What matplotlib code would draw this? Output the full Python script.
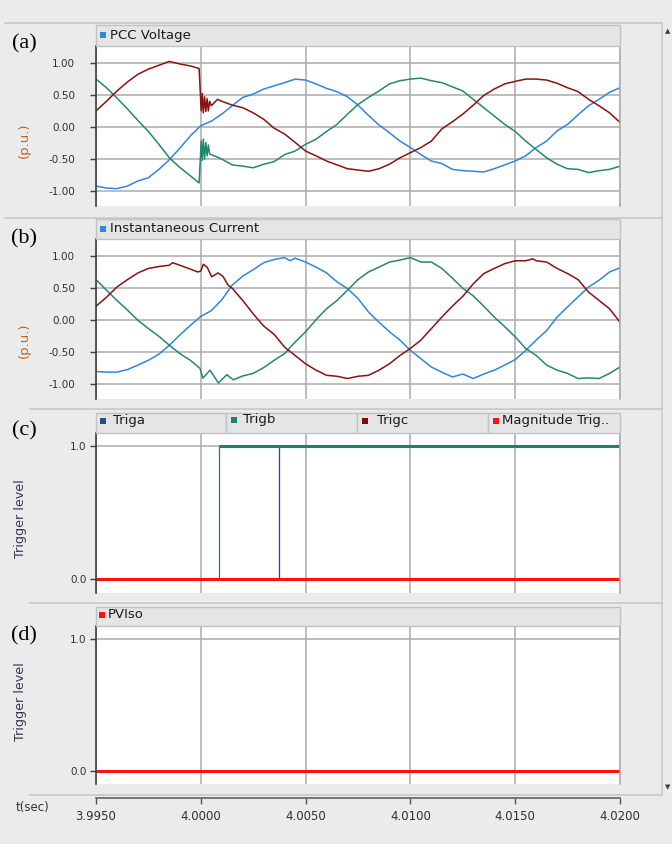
import numpy as np
import matplotlib.pyplot as plt
from matplotlib.lines import Line2D
from matplotlib.patches import Rectangle

# sample times (s)
t_grid = [3.9950, 3.9955, 3.9960, 3.9965, 3.9970, 3.9975, 3.9980, 3.9985, 3.9990, 3.9995,
          4.0000, 4.0005, 4.0010, 4.0015, 4.0020, 4.0025, 4.0030, 4.0035, 4.0040, 4.0045,
          4.0050, 4.0055, 4.0060, 4.0065, 4.0070, 4.0075, 4.0080, 4.0085, 4.0090, 4.0095,
          4.0100, 4.0105, 4.0110, 4.0115, 4.0120, 4.0125, 4.0130, 4.0135, 4.0140, 4.0145,
          4.0150, 4.0155, 4.0160, 4.0165, 4.0170, 4.0175, 4.0180, 4.0185, 4.0190, 4.0195,
          4.0200]
nan = np.nan

# (a) PCC voltage, p.u.
v_blue = [-0.92, -0.95, -0.96, -0.92, -0.84, -0.79, -0.66, -0.51, -0.33, -0.14,
          0.02, 0.09, 0.20, 0.33, 0.46, 0.51, 0.59, 0.64, 0.69, 0.745,
          0.73, 0.67, 0.60, 0.55, 0.47, 0.34, 0.18, 0.03, -0.09, -0.22,
          -0.32, -0.43, -0.53, -0.57, -0.66, -0.68, -0.69, -0.70, -0.65, -0.59,
          -0.53, -0.45, -0.32, -0.22, -0.06, 0.04, 0.19, 0.33, 0.43, 0.54,
          0.61]
v_red = [0.25, 0.40, 0.56, 0.70, 0.82, 0.90, 0.96, 1.02, 0.98, 0.95,
         nan, 0.33, 0.40, 0.34, 0.30, 0.22, 0.12, -0.02, -0.11, -0.24,
         -0.375, -0.45, -0.53, -0.59, -0.65, -0.67, -0.69, -0.65, -0.58, -0.48,
         -0.40, -0.32, -0.22, -0.03, 0.08, 0.20, 0.34, 0.49, 0.59, 0.67,
         0.71, 0.745, 0.745, 0.73, 0.68, 0.61, 0.55, 0.43, 0.33, 0.22,
         0.07]
v_green = [0.745, 0.61, 0.45, 0.28, 0.10, -0.07, -0.27, -0.48, -0.63, -0.76,
           nan, -0.43, -0.50, -0.59, -0.61, -0.635, -0.58, -0.54, -0.43, -0.375,
           -0.27, -0.19, -0.07, 0.04, 0.20, 0.35, 0.46, 0.56, 0.67, 0.72,
           0.745, 0.76, 0.72, 0.69, 0.625, 0.56, 0.43, 0.30, 0.17, 0.04,
           -0.07, -0.22, -0.35, -0.48, -0.58, -0.65, -0.66, -0.71, -0.68, -0.66,
           -0.61]
# switching transient around t = 4.0000 s
v_tr_t = [3.99992, 4.00002, 4.00007, 4.00012, 4.00018, 4.00024, 4.00030, 4.00036, 4.00042, 4.00080]
v_red_tr = [0.91, 0.25, 0.52, 0.22, 0.47, 0.24, 0.44, 0.25, 0.40, 0.43]
v_green_tr = [-0.87, -0.22, -0.52, -0.19, -0.50, -0.24, -0.45, -0.28, -0.42, -0.47]

# (b) instantaneous current, p.u.
i_blue = [-0.80, -0.81, -0.81, -0.77, -0.70, -0.625, -0.53, -0.39, -0.23, -0.08,
          0.06, 0.15, 0.32, 0.55, 0.69, 0.79, 0.90, 0.95, 0.98, 0.97,
          0.91, 0.83, 0.74, 0.60, 0.495, 0.34, 0.13, -0.03, -0.18, -0.31,
          -0.47, -0.60, -0.73, -0.81, -0.885, -0.84, -0.91, -0.84, -0.78, -0.70,
          -0.615, -0.47, -0.31, -0.16, 0.05, 0.21, 0.365, 0.52, 0.625, 0.755,
          0.82]
i_red = [0.22, 0.36, 0.52, 0.635, 0.74, 0.81, 0.84, 0.86, 0.86, 0.80,
         nan, nan, nan, nan, 0.31, 0.10, -0.09, -0.22, -0.42, -0.55,
         -0.68, -0.78, -0.86, -0.875, -0.91, -0.875, -0.86, -0.78, -0.68, -0.55,
         -0.44, -0.31, -0.13, 0.05, 0.22, 0.375, 0.57, 0.73, 0.81, 0.885,
         0.93, 0.93, 0.93, 0.91, 0.81, 0.73, 0.635, 0.44, 0.31, 0.18,
         -0.03]
i_green = [0.635, 0.47, 0.31, 0.16, 0.0, -0.13, -0.25, -0.39, -0.52, -0.625,
           nan, nan, nan, nan, -0.87, -0.83, -0.74, -0.625, -0.52, -0.34,
           -0.18, 0.01, 0.18, 0.31, 0.47, 0.635, 0.755, 0.83, 0.91, 0.94,
           0.98, 0.91, 0.91, 0.81, 0.66, 0.50, 0.38, 0.22, 0.05, -0.10,
           -0.26, -0.44, -0.55, -0.70, -0.78, -0.83, -0.91, -0.90, -0.91, -0.83,
           -0.73]
i_blue_tr_t = [4.00425]
i_blue_tr = [0.93]
i_red_tr_t = [3.99865, 3.99985, 4.0000, 4.00012, 4.0003, 4.00052, 4.00082, 4.00105, 4.0013, 4.0015, 4.01585]
i_red_tr = [0.90, 0.755, 0.77, 0.875, 0.83, 0.68, 0.74, 0.69, 0.55, 0.50, 0.96]
i_green_tr_t = [3.99996, 4.0001, 4.00044, 4.00084, 4.00124, 4.00155]
i_green_tr = [-0.75, -0.905, -0.78, -0.98, -0.85, -0.93]

# (c) trigger signals
triga_t = [3.9950, 4.00371, 4.00371, 4.00374, 4.00374, 4.0200]
triga = [0, 0, 0.93, 0.93, 1, 1]
trigb_t = [3.9950, 4.00089, 4.00089, 4.0200]
trigb = [0, 0, 1, 1]
trigc_t = [3.9950, 4.0200]
trigc = [0, 0]
mag_t = [3.9950, 4.0200]
mag = [0, 0]

# (d) PV isolation signal
pviso_t = [3.9950, 4.0200]
pviso = [0, 0]

x_ticks = [3.995, 4.000, 4.005, 4.010, 4.015, 4.020]
wave_ticks = [-1.0, -0.5, 0.0, 0.5, 1.0]
trig_ticks = [0.0, 1.0]

BLUE, GREEN, DRED = '#2f86dc', '#24886c', '#8c1111'
W, H = 672, 844
BG = '#ebebeb'


def merge(t, v, et=(), ev=()):
    t = np.concatenate([np.asarray(t, float), np.asarray(et, float)])
    v = np.concatenate([np.asarray(v, float), np.asarray(ev, float)])
    ok = ~np.isnan(v)
    t, v = t[ok], v[ok]
    o = np.argsort(t, kind='stable')
    return t[o], v[o]


def rect(l, t, r, b):
    return [l / W, 1 - b / H, (r - l) / W, (b - t) / H]


def fx(x):
    return x / W


def fy(y):
    return 1 - y / H


fig = plt.figure(figsize=(6.72, 8.44), dpi=100, facecolor=BG)


def fline(xs, ys, color='#c4c4c4', lw=1.1):
    fig.add_artist(Line2D([fx(x) for x in xs], [fy(y) for y in ys],
                          transform=fig.transFigure, color=color, lw=lw))


def cell(l, t, r, b):
    fig.add_artist(Rectangle((fx(l), fy(b)), (r - l) / W, (b - t) / H,
                             transform=fig.transFigure, facecolor='#e5e5e5',
                             edgecolor='#c2c2c2', lw=1.0))


def legend_item(x, y, color, text, tx=None):
    fig.add_artist(Rectangle((fx(x), fy(y + 3)), 6 / W, 6 / H, transform=fig.transFigure,
                             facecolor=color, edgecolor='none'))
    fig.text(fx(tx if tx else x + 10), fy(y), text, fontsize=9.5, color='#1a1a1a',
             va='center', ha='left', family='DejaVu Sans')


def make_axes(top, bottom, ylim, yticks, fmt, pad):
    ax = fig.add_axes(rect(96, top, 620, bottom))
    ax.set_facecolor('white')
    ax.set_xlim(3.995, 4.020)
    ax.set_ylim(*ylim)
    ax.set_xticks(x_ticks)
    ax.set_yticks(yticks)
    ax.set_yticklabels([fmt % v for v in yticks])
    ax.tick_params(axis='x', length=0, labelbottom=False)
    ax.tick_params(axis='y', length=4, width=1, color='#404040', labelsize=7.5,
                   labelcolor='#2f2f3f', pad=pad)
    ax.grid(True, color='#ababab', lw=1.1)
    ax.set_axisbelow(True)
    for s in ('top', 'bottom'):
        ax.spines[s].set_visible(False)
    ax.spines['left'].set_color('#404040')
    ax.spines['left'].set_linewidth(1.2)
    ax.spines['right'].set_color('#ababab')
    ax.spines['right'].set_linewidth(1.1)
    return ax


# separators and scroll bar
fline([5, 662], [22.5, 22.5])
fline([5, 662], [217.5, 217.5])
fline([30, 662], [409, 409])
fline([30, 662], [603, 603])
fline([30, 662], [795, 795])
fline([662, 662], [22.5, 795], color='#c8c8c8')
fig.text(fx(668), fy(31), '\u25b2', fontsize=5, color='#404040', ha='center', va='center')
fig.text(fx(668), fy(787), '\u25bc', fontsize=5, color='#404040', ha='center', va='center')

# legend strips
cell(96, 25, 620, 46)
cell(96, 219, 620, 239)
for l, r in [(96, 226), (226, 357), (357, 488), (488, 620)]:
    cell(l, 413, r, 433)
cell(96, 607, 620, 626)

# (a) voltage
ax = make_axes(46, 206, (-1.23, 1.26), wave_ticks, '%.2f', 11)
t, v = merge(t_grid, v_blue)
ax.plot(t, v, color=BLUE, lw=1.1)
t, v = merge(t_grid, v_green, v_tr_t, v_green_tr)
ax.plot(t, v, color=GREEN, lw=1.1)
t, v = merge(t_grid, v_red, v_tr_t, v_red_tr)
ax.plot(t, v, color=DRED, lw=1.1)
legend_item(100, 35, BLUE, 'PCC Voltage')

# (b) current
ax = make_axes(239, 399, (-1.23, 1.27), wave_ticks, '%.2f', 11)
t, v = merge(t_grid, i_blue, i_blue_tr_t, i_blue_tr)
ax.plot(t, v, color=BLUE, lw=1.1)
t, v = merge(t_grid, i_green, i_green_tr_t, i_green_tr)
ax.plot(t, v, color=GREEN, lw=1.1)
t, v = merge(t_grid, i_red, i_red_tr_t, i_red_tr)
ax.plot(t, v, color=DRED, lw=1.1)
legend_item(100, 229, BLUE, 'Instantaneous Current')

# (c) triggers
ax = make_axes(433, 593, (-0.108, 1.096), trig_ticks, '%.1f', 3)
ax.plot(triga_t, triga, color='#1d4f8c', lw=0.9)
ax.plot(trigb_t, trigb, color='#1f8070', lw=0.9)
hi = np.array(trigb) >= 1
ax.plot(np.array(trigb_t)[hi], np.array(trigb)[hi], color='#1f8070', lw=2.2,
        solid_capstyle='butt')
ax.plot(trigc_t, trigc, color='#7a0c0c', lw=1.5)
ax.plot(mag_t, mag, color='#ff1010', lw=2.2, solid_capstyle='butt')
legend_item(99.5, 421, '#1d4f8c', 'Triga', tx=113)
legend_item(231, 420, '#1f8070', 'Trigb', tx=243)
legend_item(362, 421, '#7a0c0c', 'Trigc', tx=377)
legend_item(493, 421, '#ff1010', 'Magnitude Trig..', tx=502)

# (d) PV isolation
ax = make_axes(626, 784, (-0.10, 1.10), trig_ticks, '%.1f', 3)
ax.plot(pviso_t, pviso, color='#ff1010', lw=2.2, solid_capstyle='butt')
legend_item(99, 615, '#ff1010', 'PVIso', tx=108)

# time axis
axx = fig.add_axes(rect(96, 797.6, 620, 797.8))
axx.set_facecolor('none')
axx.set_xlim(3.995, 4.020)
axx.set_yticks([])
for s in ('top', 'left', 'right'):
    axx.spines[s].set_visible(False)
axx.spines['bottom'].set_color('#555555')
axx.spines['bottom'].set_linewidth(1.1)
axx.set_xticks(x_ticks)
axx.set_xticklabels(['%.4f' % v for v in x_ticks])
axx.tick_params(axis='x', direction='out', length=4, width=1, color='#555555',
                labelsize=8.5, labelcolor='#2f2f3f', pad=4.5)
fig.text(fx(33), fy(808), 't(sec)', fontsize=8.5, color='#2f2f3f', ha='center', va='center')

# panel letters and axis titles
for letter, y in [('(a)', 44), ('(b)', 239), ('(c)', 431), ('(d)', 636)]:
    fig.text(fx(24), fy(y), letter, fontsize=16, family='Liberation Serif',
             ha='center', va='center', color='black')
for y in (140, 340):
    fig.text(fx(24), fy(y), '(p.u.)', fontsize=9.5, color='#c0651e', rotation=90,
             ha='center', va='center')
for y in (519, 702):
    fig.text(fx(21), fy(y), 'Trigger level', fontsize=9.2, color='#34384e', rotation=90,
             ha='center', va='center')

fig.savefig('out.png', dpi=100, facecolor=BG)
